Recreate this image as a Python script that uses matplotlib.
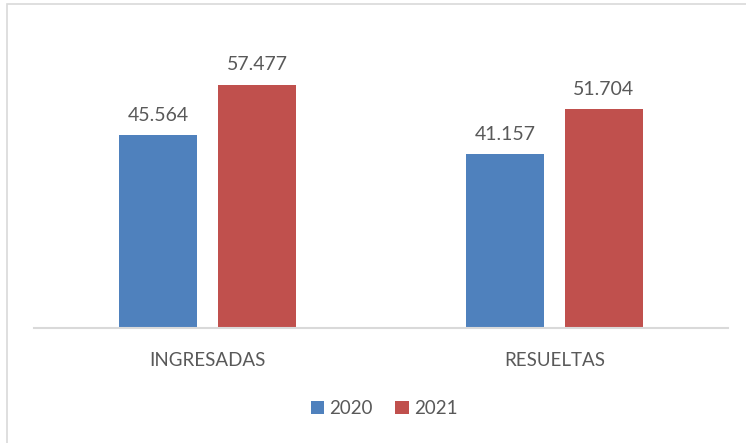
import matplotlib
matplotlib.use("Agg")
import matplotlib.pyplot as plt
import numpy as np
from matplotlib.patches import Rectangle

categories = ["INGRESADAS", "RESUELTAS"]
years = ["2020", "2021"]
values_2020 = [45564, 41157]
values_2021 = [57477, 51704]

colors = ["#4F81BD", "#C0504D"]
text_color = "#595959"

plt.rcParams["font.family"] = ["Lato", "DejaVu Sans"]

fig = plt.figure(figsize=(7.46, 4.43), dpi=100)
ax = fig.add_axes([34 / 746, (443 - 328) / 443, 694 / 746, 296.5 / 443])

x = np.arange(len(categories))
width = 0.225
offset = 0.1425
for vals, year, color, off in zip([values_2020, values_2021], years, colors, [-offset, offset]):
    bars = ax.bar(x + off, vals, width, color=color, label=year)
    for b, v in zip(bars, vals):
        ax.annotate(f"{v:,}".replace(",", "."),
                    (b.get_x() + b.get_width() / 2, v),
                    xytext=(0, 8), textcoords="offset points",
                    ha="center", va="bottom", fontsize=14, color=text_color)

ax.set_xlim(-0.5, 1.5)
ax.set_ylim(0, 70000)
ax.set_xticks(x)
ax.set_xticklabels(categories, fontsize=13.5, color=text_color)
ax.tick_params(axis="x", length=0, pad=17)
ax.set_yticks([])
for s in ["top", "right", "left"]:
    ax.spines[s].set_visible(False)
ax.spines["bottom"].set_color("#D9D9D9")
ax.spines["bottom"].set_linewidth(1.5)

leg = fig.legend(loc="center", bbox_to_anchor=(0.515, 0.077), ncol=2,
                 frameon=False, fontsize=13.5, handlelength=0.7, handleheight=0.7,
                 handletextpad=0.3, columnspacing=1.2)
for t in leg.get_texts():
    t.set_color(text_color)

# outer chart border
fig.patches.append(Rectangle((7 / 746, -0.1), 1.0, (443 - 4) / 443 + 0.1,
                             transform=fig.transFigure, fill=False,
                             edgecolor="#D9D9D9", linewidth=1.2))

fig.savefig("out.png", dpi=100)
